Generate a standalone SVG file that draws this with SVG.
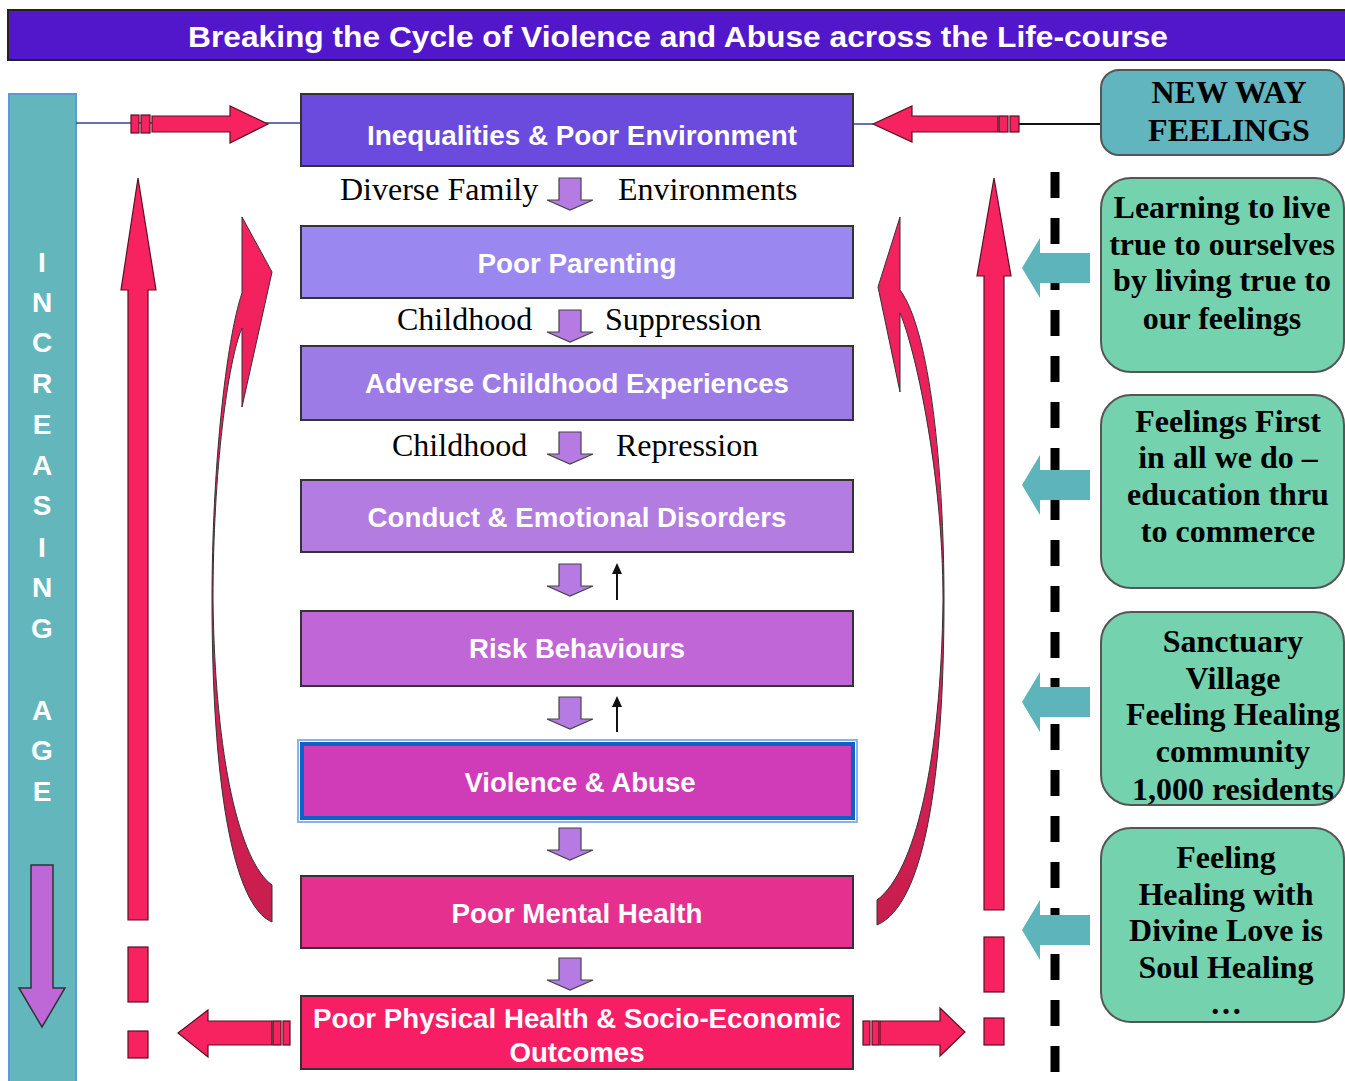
<svg xmlns="http://www.w3.org/2000/svg" width="1345" height="1081" viewBox="0 0 1345 1081">
<style>
.bx{stroke:#333;stroke-width:2}
.bt{font-family:"Liberation Sans",Arial,sans-serif;font-weight:bold;font-size:27px;fill:#fff;text-anchor:middle}
.lb{font-family:"Liberation Serif","Times New Roman",serif;font-size:32px;fill:#000}
.gt{font-family:"Liberation Serif","Times New Roman",serif;font-weight:bold;font-size:32px;fill:#000;text-anchor:middle}
.red{fill:#F72260;stroke:#5a1020;stroke-width:1.2}
.pa{fill:#B57BE3;stroke:#444;stroke-width:1.2}
.ta{fill:#5DB4BA}
.gb{fill:#74D3AE;stroke:#555;stroke-width:2}
.vl{font-family:"Liberation Sans",Arial,sans-serif;font-weight:bold;font-size:28px;fill:#fff;text-anchor:middle}
</style>
<defs>
<path id="dn" d="M-11,0 H11 V22 H23 L0,32 L-23,22 H-11 Z"/>
<path id="tl" d="M0,0 L18,-30 V-15 H68 V15 H18 V30 Z"/>
<linearGradient id="cg" x1="0" y1="0" x2="0" y2="1">
<stop offset="0" stop-color="#F72260"/><stop offset="1" stop-color="#C81E4E"/>
</linearGradient>
</defs>
<rect width="1345" height="1081" fill="#fff"/>

<g id="header">
<rect x="8" y="10" width="1340" height="50" fill="#5216CB" stroke="#222" stroke-width="2"/>
<text x="678" y="47" font-family="Liberation Sans,Arial,sans-serif" font-weight="bold" font-size="29" fill="#fff" text-anchor="middle" textLength="980" lengthAdjust="spacingAndGlyphs">Breaking the Cycle of Violence and Abuse across the Life-course</text>
</g>

<g id="age-bar">
<rect x="9" y="94" width="67" height="990" fill="#62B6BC" stroke="#5A9AD8" stroke-width="2"/>
<text class="vl" x="42" y="272">I</text>
<text class="vl" x="42" y="312">N</text>
<text class="vl" x="42" y="352">C</text>
<text class="vl" x="42" y="393">R</text>
<text class="vl" x="42" y="434">E</text>
<text class="vl" x="42" y="475">A</text>
<text class="vl" x="42" y="515">S</text>
<text class="vl" x="42" y="557">I</text>
<text class="vl" x="42" y="597">N</text>
<text class="vl" x="42" y="638">G</text>
<text class="vl" x="42" y="720">A</text>
<text class="vl" x="42" y="760">G</text>
<text class="vl" x="42" y="801">E</text>
<path d="M31,865 H53 V988 H65 L42,1027 L19,988 H31 Z" fill="#BE68D8" stroke="#333" stroke-width="1.5"/>
</g>

<g id="connectors">
<line x1="76" y1="123" x2="301" y2="123" stroke="#33409A" stroke-width="1.5"/>
<rect class="red" x="131" y="115" width="8" height="18"/>
<rect class="red" x="141" y="115" width="9" height="18"/>
<path class="red" d="M152,116 H230 V106 L268,124 L230,143 V132 H152 Z"/>

<line x1="853" y1="124" x2="873" y2="124" stroke="#33409A" stroke-width="1.5"/>
<line x1="1019" y1="124" x2="1101" y2="124" stroke="#111" stroke-width="2"/>
<path class="red" d="M873,124 L912,106 V116 H998 V132 H912 V142 Z"/>
<rect class="red" x="999" y="116" width="9" height="16"/>
<rect class="red" x="1010" y="116" width="9" height="16"/>

<path class="red" d="M178,1033 L208,1010 V1021 H272 V1045 H208 V1057 Z"/>
<rect class="red" x="273" y="1021" width="8" height="24"/>
<rect class="red" x="283" y="1021" width="7" height="24"/>
<rect class="red" x="863" y="1021" width="7" height="24"/>
<rect class="red" x="872" y="1021" width="7" height="24"/>
<path class="red" d="M880,1021 H940 V1008 L965,1032 L940,1056 V1045 H880 Z"/>

<path class="red" d="M128,920 V290 H121 L138,178 L156,290 H148 V920 Z"/>
<rect class="red" x="128" y="947" width="20" height="55"/>
<rect class="red" x="128" y="1031" width="20" height="27"/>
<path class="red" d="M984,910 V276 H977 L994,178 L1011,276 H1004 V910 Z"/>
<rect class="red" x="984" y="937" width="20" height="55"/>
<rect class="red" x="984" y="1018" width="20" height="27"/>

<path d="M242,217 L272,272 L242,407 L242,328 C228,360 213,470 213,600 C215,760 240,862 272,885 L272,922 C232,905 212,780 212,600 C212,470 226,340 242,293 Z" fill="url(#cg)" stroke="#333" stroke-width="1"/>
<path d="M900,217 L878,287 L900,392 L900,313 C914,345 943,470 943,600 C941,762 915,872 877,900 L877,925 C924,905 944,780 944,600 C944,470 930,330 900,290 Z" fill="url(#cg)" stroke="#333" stroke-width="1"/>

<use href="#dn" class="pa" x="570" y="178"/>
<use href="#dn" class="pa" x="570" y="310"/>
<use href="#dn" class="pa" x="570" y="432"/>
<use href="#dn" class="pa" x="570" y="564"/>
<use href="#dn" class="pa" x="570" y="697"/>
<use href="#dn" class="pa" x="570" y="828"/>
<use href="#dn" class="pa" x="570" y="958"/>
<line x1="617" y1="600" x2="617" y2="572" stroke="#111" stroke-width="2"/>
<path d="M612,574 L617,563 L622,574 Z" fill="#111"/>
<line x1="617" y1="732" x2="617" y2="705" stroke="#111" stroke-width="2"/>
<path d="M612,707 L617,696 L622,707 Z" fill="#111"/>

<line x1="1055" y1="172" x2="1055" y2="1081" stroke="#000" stroke-width="9" stroke-dasharray="26 20"/>
<use href="#tl" class="ta" x="1022" y="268"/>
<use href="#tl" class="ta" x="1022" y="485"/>
<use href="#tl" class="ta" x="1022" y="702"/>
<use href="#tl" class="ta" x="1022" y="930"/>
</g>

<g id="n1"><rect class="bx" x="301" y="94" width="552" height="72" fill="#6A4BDD"/>
<text class="bt" x="582" y="145" textLength="430" lengthAdjust="spacingAndGlyphs">Inequalities &amp; Poor Environment</text></g>
<g id="l1"><text class="lb" x="340" y="200">Diverse Family</text><text class="lb" x="618" y="200">Environments</text></g>
<g id="n2"><rect class="bx" x="301" y="226" width="552" height="72" fill="#9A88F0"/>
<text class="bt" x="577" y="273" textLength="199" lengthAdjust="spacingAndGlyphs">Poor Parenting</text></g>
<g id="l2"><text class="lb" x="397" y="330">Childhood</text><text class="lb" x="605" y="330">Suppression</text></g>
<g id="n3"><rect class="bx" x="301" y="346" width="552" height="74" fill="#9D7BE6"/>
<text class="bt" x="577" y="393" textLength="424" lengthAdjust="spacingAndGlyphs">Adverse Childhood Experiences</text></g>
<g id="l3"><text class="lb" x="392" y="456">Childhood</text><text class="lb" x="616" y="456">Repression</text></g>
<g id="n4"><rect class="bx" x="301" y="480" width="552" height="72" fill="#B27CE0"/>
<text class="bt" x="577" y="527" textLength="419" lengthAdjust="spacingAndGlyphs">Conduct &amp; Emotional Disorders</text></g>
<g id="n5"><rect class="bx" x="301" y="611" width="552" height="75" fill="#C066D6"/>
<text class="bt" x="577" y="658" textLength="216" lengthAdjust="spacingAndGlyphs">Risk Behaviours</text></g>
<g id="n6"><rect x="298" y="740" width="559" height="82" fill="none" stroke="#8AB4E8" stroke-width="2"/>
<rect x="302" y="744" width="551" height="74" fill="#D03CB8" stroke="#1060C8" stroke-width="4"/>
<text class="bt" x="580" y="792" textLength="231" lengthAdjust="spacingAndGlyphs">Violence &amp; Abuse</text></g>
<g id="n7"><rect class="bx" x="301" y="876" width="552" height="72" fill="#E5308F"/>
<text class="bt" x="577" y="923" textLength="251" lengthAdjust="spacingAndGlyphs">Poor Mental Health</text></g>
<g id="n8"><rect class="bx" x="301" y="996" width="552" height="73" fill="#F71E66"/>
<text class="bt" x="577" y="1028" textLength="528" lengthAdjust="spacingAndGlyphs">Poor Physical Health &amp; Socio-Economic</text>
<text class="bt" x="577" y="1062" textLength="135" lengthAdjust="spacingAndGlyphs">Outcomes</text></g>

<g id="nw"><rect x="1101" y="70" width="243" height="85" rx="18" fill="#60B5BE" stroke="#555" stroke-width="2"/>
<text class="gt" x="1229" y="103" font-size="33">NEW WAY</text><text class="gt" x="1229" y="141" font-size="33">FEELINGS</text></g>
<g id="g1"><rect class="gb" x="1101" y="178" width="243" height="194" rx="30"/>
<text class="gt" x="1222" y="218">Learning to live</text>
<text class="gt" x="1222" y="255">true to ourselves</text>
<text class="gt" x="1222" y="291">by living true to</text>
<text class="gt" x="1222" y="329">our feelings</text></g>
<g id="g2"><rect class="gb" x="1101" y="395" width="243" height="193" rx="30"/>
<text class="gt" x="1228" y="432">Feelings First</text>
<text class="gt" x="1228" y="468">in all we do –</text>
<text class="gt" x="1228" y="505">education thru</text>
<text class="gt" x="1228" y="542">to commerce</text></g>
<g id="g3"><rect class="gb" x="1101" y="612" width="243" height="193" rx="30"/>
<text class="gt" x="1233" y="652">Sanctuary</text>
<text class="gt" x="1233" y="689">Village</text>
<text class="gt" x="1233" y="725">Feeling Healing</text>
<text class="gt" x="1233" y="762">community</text>
<text class="gt" x="1233" y="800">1,000 residents</text></g>
<g id="g4"><rect class="gb" x="1101" y="828" width="243" height="194" rx="30"/>
<text class="gt" x="1226" y="868">Feeling</text>
<text class="gt" x="1226" y="905">Healing with</text>
<text class="gt" x="1226" y="941">Divine Love is</text>
<text class="gt" x="1226" y="978">Soul Healing</text>
<text class="gt" x="1226" y="1014">…</text></g>
</svg>
